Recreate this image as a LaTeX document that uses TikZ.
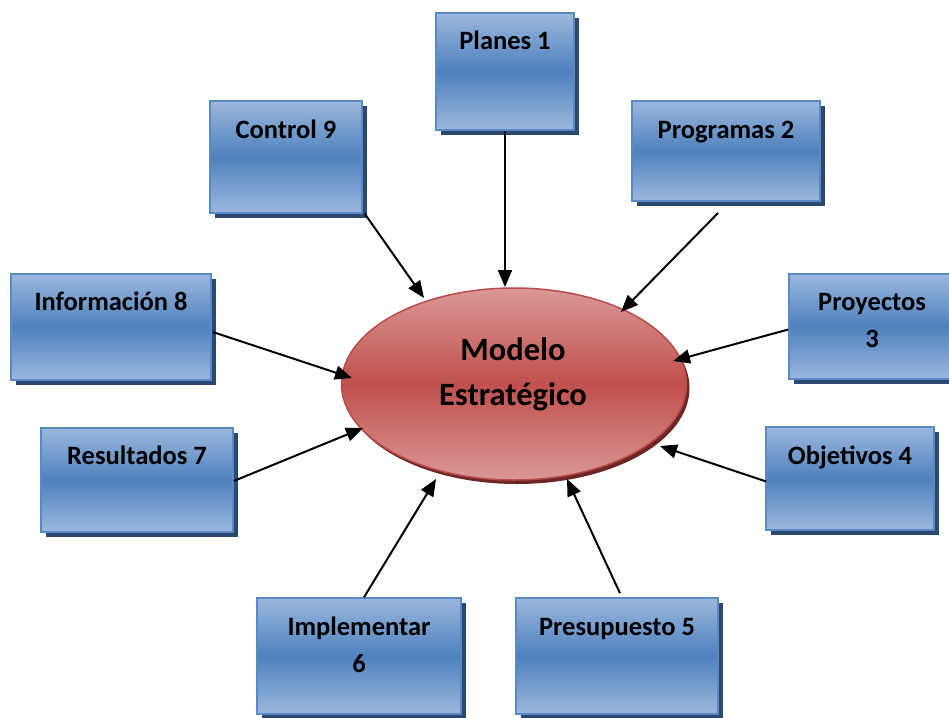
\documentclass[tikz,border=0pt]{standalone}
\usepackage{fontspec}
\setmainfont{Carlito}
\usetikzlibrary{arrows.meta,shadows,calc,shapes.geometric}
\definecolor{boxlight}{HTML}{9BB8DE}
\definecolor{boxdark}{HTML}{4F81BD}
\definecolor{boxborder}{HTML}{5A8AC6}
\definecolor{boxshadow}{HTML}{2A4870}
\definecolor{elllight}{HTML}{DA9896}
\definecolor{elldark}{HTML}{C0504D}
\definecolor{ellborder}{HTML}{B94B48}
\definecolor{ellshadow}{HTML}{6E2624}
\tikzset{
  box/.style={draw=boxborder, line width=1.5pt, inner sep=0pt,
    top color=boxlight, bottom color=boxlight, middle color=boxdark,
    general shadow={fill=boxshadow, shadow xshift=5pt, shadow yshift=-5pt}},
  lbl/.style={inner sep=0pt, anchor=base, font=\fontsize{26.5}{37}\selectfont\bfseries},
  ell/.style={ellipse, draw=ellborder, line width=1.5pt, inner sep=0pt,
    minimum width=345pt, minimum height=192pt,
    top color=elllight, bottom color=elllight, middle color=elldark,
    general shadow={fill=ellshadow, shadow xshift=3pt, shadow yshift=-4pt}},
  mlbl/.style={inner sep=0pt, anchor=base, font=\fontsize{32.5}{45}\selectfont\bfseries},
  arr/.style={draw=black, line width=2pt, -{Triangle[length=17pt,width=14pt]}}
}
\begin{document}
\begin{tikzpicture}[x=1pt,y=-1pt]
\useasboundingbox (0,0) rectangle (949,717);
% boxes
\node[box, minimum width=138pt, minimum height=117pt] (p1) at (505,71.5) {};
\node[box, minimum width=152pt, minimum height=112pt] (c9) at (286,157) {};
\node[box, minimum width=188pt, minimum height=100pt] (p2) at (726,151) {};
\node[box, minimum width=200pt, minimum height=106pt] (i8) at (111,327) {};
\node[box, minimum width=166pt, minimum height=105pt] (p3) at (872,326.5) {};
\node[box, minimum width=192pt, minimum height=104pt] (r7) at (137,480) {};
\node[box, minimum width=168pt, minimum height=103pt] (o4) at (850,478.5) {};
\node[box, minimum width=204pt, minimum height=116pt] (i6) at (359,656) {};
\node[box, minimum width=202pt, minimum height=116pt] (p5) at (617,656) {};
% labels
\node[lbl] (t1) at ($(p1.north)+(0,37)$) {Planes 1};
\node[lbl] (t9) at ($(c9.north)+(0,38)$) {Control 9};
\node[lbl] (t2) at ($(p2.north)+(0,38)$) {Programas 2};
\node[lbl] (t8) at ($(i8.north)+(0,37)$) {Información 8};
\node[lbl] (t3) at ($(p3.north)+(0,37)$) {\begin{tabular}[t]{@{}c@{}}Proyectos\\3\end{tabular}};
\node[lbl] (t7) at ($(r7.north)+(0,37)$) {Resultados 7};
\node[lbl] (t4) at ($(o4.north)+(0,38)$) {Objetivos 4};
\node[lbl] (t6) at ($(i6.north)+(0,38)$) {\begin{tabular}[t]{@{}c@{}}Implementar\\6\end{tabular}};
\node[lbl] (t5) at ($(p5.north)+(0,38)$) {Presupuesto 5};
% ellipse
\node[ell] (mod) at (514,384) {};
\node[mlbl] (mt) at (513,360) {\begin{tabular}[t]{@{}c@{}}Modelo\\Estratégico\end{tabular}};
% connectors
\coordinate (p2s) at (718,213);
\draw[arr] (p1.south) -- ($(mod)+(-9,-97)$);
\draw[arr] ($(c9.south east)+(2,0)$) -- ($(mod)+(-90,-86)$);
\draw[arr] (p2s) -- ($(mod)+(107,-72)$);
\draw[arr] ($(i8.east)+(1,5)$) -- ($(mod)+(-162,-6)$);
\draw[arr] ($(p3.west)+(0,3)$) -- ($(mod)+(159,-23)$);
\draw[arr] ($(r7.east)+(0,1)$) -- ($(mod)+(-151,44)$);
\draw[arr] ($(o4.west)+(1,3)$) -- ($(mod)+(146,62)$);
\draw[arr] ($(i6.north)+(5,0)$) -- ($(mod)+(-78,95)$);
\draw[arr] ($(p5.north)+(3,-4)$) -- ($(mod)+(53,95)$);
\end{tikzpicture}
\end{document}
